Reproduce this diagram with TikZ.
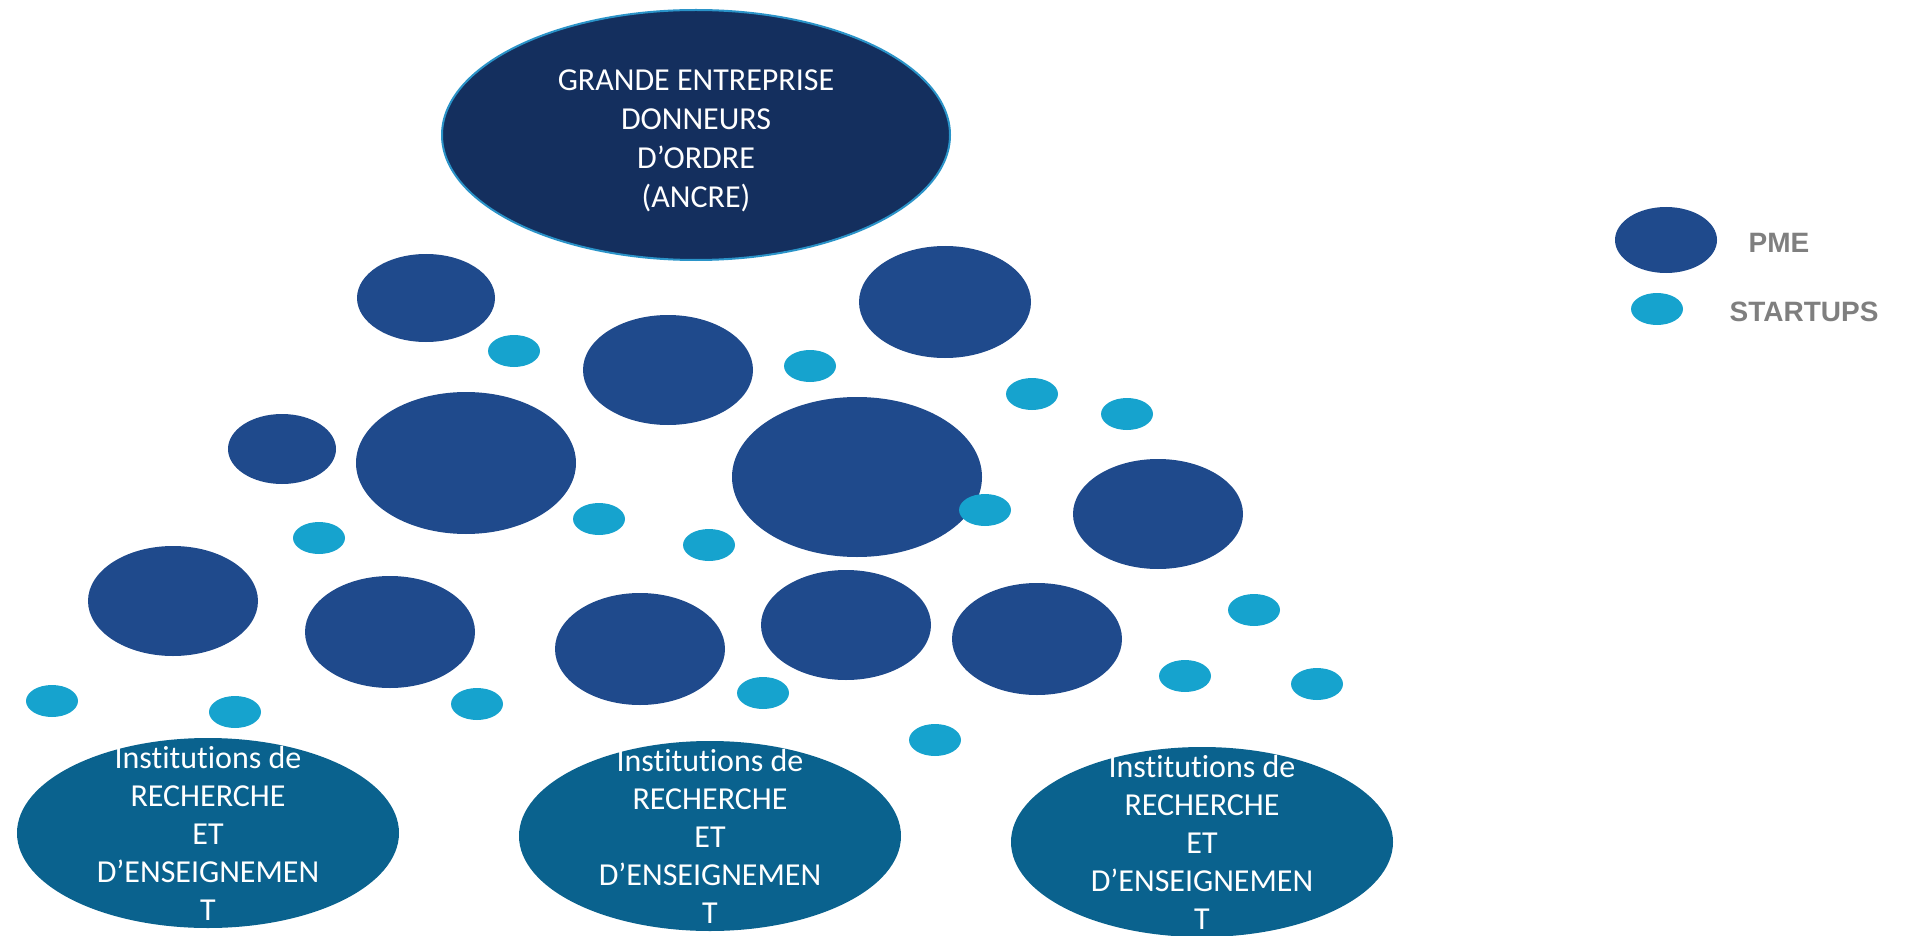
\documentclass[tikz,border=0pt]{standalone}
\usepackage{fontspec}
\setmainfont{Carlito}[Ligatures={NoCommon}]
\newfontfamily\legendfont{Liberation Sans}
\usepackage{xcolor}
\usepackage{tikz}
\usetikzlibrary{shapes.geometric}

\definecolor{ancreblue}{HTML}{142F5E}
\definecolor{ancreline}{HTML}{2A93C8}
\definecolor{pmeblue}{HTML}{1F4A8C}
\definecolor{startupblue}{HTML}{16A3CE}
\definecolor{instblue}{HTML}{0A628E}
\definecolor{legendgray}{HTML}{7F7F7F}

\tikzset{
	pme/.style={ellipse, fill=pmeblue, inner sep=0pt},
	startup/.style={ellipse, fill=startupblue, inner sep=0pt, minimum width=52, minimum height=32},
	institution/.style={ellipse, fill=instblue, inner sep=0pt, minimum width=382, minimum height=190},
	insttext/.style={text=white, align=center, font=\fontsize{32}{38}\selectfont},
	legendtext/.style={text=legendgray, font=\legendfont\bfseries\fontsize{28}{32}\selectfont}
}

\begin{document}
\begin{tikzpicture}[x=1pt, y=-1pt]
		\useasboundingbox (0,0) rectangle (1909,936);

		\node[ellipse, fill=ancreblue, draw=ancreline, line width=2pt, inner sep=0pt,
			minimum width=508, minimum height=250] (ancre) at (696,135) {};
		\node[insttext, font=\fontsize{32}{39}\selectfont] (ancretext) at (696,141)
			{GRANDE ENTREPRISE\\DONNEURS\\D’ORDRE\\(ANCRE)};

		% PME
		\node[pme, minimum width=138, minimum height=88] (p1) at (426,298) {};
		\node[pme, minimum width=172, minimum height=112] (p2) at (945,302) {};
		\node[pme, minimum width=170, minimum height=110] (p3) at (668,370) {};
		\node[pme, minimum width=108, minimum height=70] (p4) at (282,449) {};
		\node[pme, minimum width=220, minimum height=142] (p5) at (466,463) {};
		\node[pme, minimum width=250, minimum height=160] (p6) at (857,477) {};
		\node[pme, minimum width=170, minimum height=110] (p7) at (1158,514) {};
		\node[pme, minimum width=170, minimum height=110] (p8) at (173,601) {};
		\node[pme, minimum width=170, minimum height=112] (p9) at (390,632) {};
		\node[pme, minimum width=170, minimum height=112] (p10) at (640,649) {};
		\node[pme, minimum width=170, minimum height=110] (p11) at (846,625) {};
		\node[pme, minimum width=170, minimum height=112] (p12) at (1037,639) {};

		% startups
		\node[startup] (s1) at (514,351) {};
		\node[startup] (s2) at (810,366) {};
		\node[startup] (s3) at (1032,394) {};
		\node[startup] (s4) at (1127,414) {};
		\node[startup] (s5) at (319,538) {};
		\node[startup] (s6) at (599,519) {};
		\node[startup] (s7) at (709,545) {};
		\node[startup] (s8) at (985,510) {};
		\node[startup] (s9) at (1254,610) {};
		\node[startup] (s10) at (52,701) {};
		\node[startup] (s11) at (235,712) {};
		\node[startup] (s12) at (477,704) {};
		\node[startup] (s13) at (763,693) {};
		\node[startup] (s14) at (935,740) {};
		\node[startup] (s15) at (1185,676) {};
		\node[startup] (s16) at (1317,684) {};

		% institutions
		\node[institution] (i1) at (208,833) {};
		\node[institution] (i2) at (710,836) {};
		\node[institution] (i3) at (1202,842) {};
		\node[insttext] (t1) at (i1) {Institutions de\\RECHERCHE\\ET\\D’ENSEIGNEMEN\\T};
		\node[insttext] (t2) at (i2) {Institutions de\\RECHERCHE\\ET\\D’ENSEIGNEMEN\\T};
		\node[insttext] (t3) at (i3) {Institutions de\\RECHERCHE\\ET\\D’ENSEIGNEMEN\\T};

		% legende
		\node[pme, minimum width=102, minimum height=66] (lpme) at (1666,240) {};
		\node[startup] (lstartup) at (1657,309) {};
		\node[legendtext] (lpmetext) at (1779,243) {PME};
		\node[legendtext] (lstartuptext) at (1804,312) {STARTUPS};
	\end{tikzpicture}
\end{document}
